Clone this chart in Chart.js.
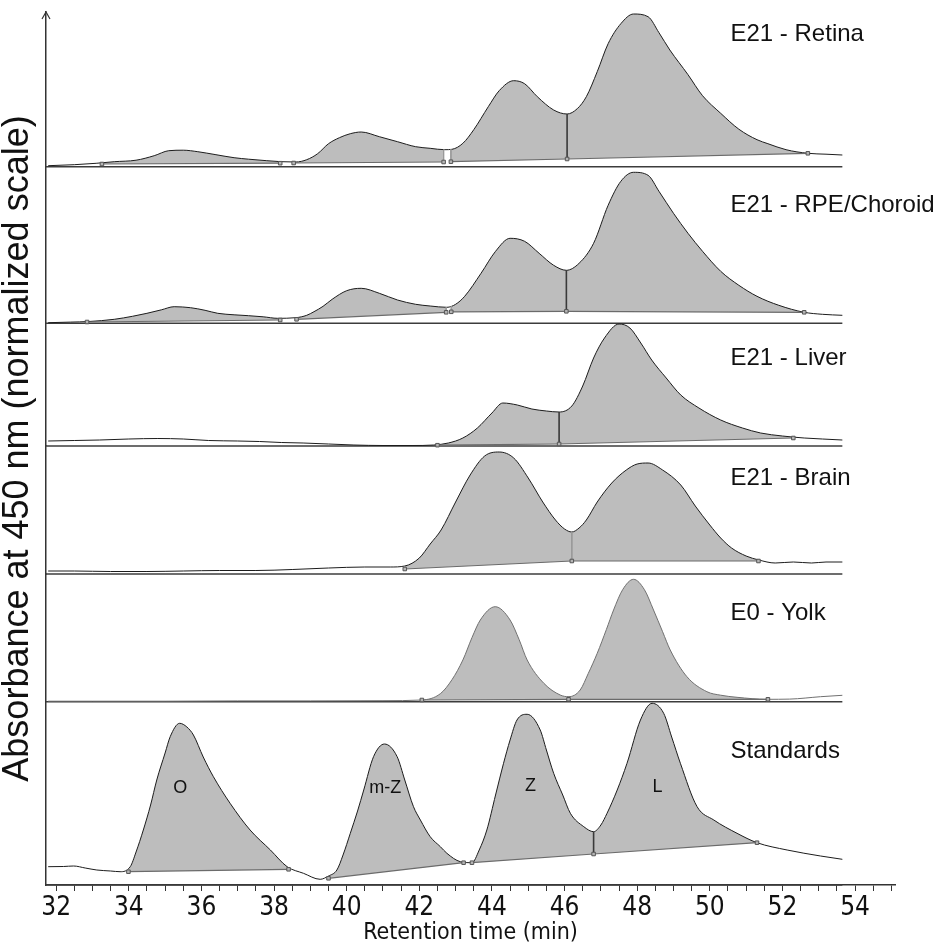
<!DOCTYPE html>
<html>
<head>
<meta charset="utf-8">
<script src="https://cdn.jsdelivr.net/npm/chart.js@4.4.1/dist/chart.umd.min.js"></script>
<style>
  html, body { margin: 0; padding: 0; background: #fff; }
  canvas { display: block; }
</style>
</head>
<body>
<canvas id="chromatograms" width="935" height="950"></canvas>
<script>
// Retention time (min) / absorbance readings, one panel per sample (top to bottom)
const PANELS = ['retina', 'rpe', 'liver', 'brain', 'yolk', 'standards'];
const PANEL_LABELS = ['E21 - Retina', 'E21 - RPE/Choroid', 'E21 - Liver', 'E21 - Brain', 'E0 - Yolk', 'Standards'];

const RETINA_T = [31.78, 32.5, 33.1, 33.6, 34.2, 34.7, 35.1, 35.5, 35.9, 36.4, 36.9, 37.3, 37.8, 38.2, 38.6, 38.9, 39.2, 39.5, 39.8, 40.1, 40.4, 40.9, 41.4, 41.9, 42.3, 42.7, 42.9, 43.2, 43.5, 43.9, 44.2, 44.6, 44.9, 45.25, 45.7, 46.07, 46.35, 46.6, 46.9, 47.2, 47.55, 47.9, 48.3, 48.6, 48.9, 49.4, 49.8, 50.3, 50.8, 51.3, 51.6, 52.1, 52.7, 53.2, 53.65];
const RETINA_Y = [1, 2, 3.4, 5, 6.5, 11, 16, 16.5, 15, 12, 9, 7.5, 6, 5, 4.7, 7, 13, 23, 29, 33, 34.7, 30, 25, 20, 18.4, 17, 17.4, 23.4, 37, 60, 76, 86, 83, 70, 56.7, 52.7, 58, 70, 95, 123, 143, 152.7, 150, 134, 116.7, 92, 71, 53.4, 37.5, 27, 23, 17, 13.4, 12.5, 11.7];

const RPE_T = [31.78, 32.4, 32.9, 33.6, 34.1, 34.5, 34.9, 35.25, 35.7, 36.1, 36.45, 36.9, 37.3, 37.7, 38.1, 38.6, 38.9, 39.1, 39.35, 39.6, 40.0, 40.4, 40.9, 41.4, 41.9, 42.3, 42.76, 43.0, 43.25, 43.7, 44.1, 44.5, 44.9, 45.3, 45.7, 46.05, 46.4, 46.8, 47.2, 47.55, 47.9, 48.3, 48.6, 49.0, 49.4, 49.8, 50.3, 50.8, 51.3, 51.9, 52.6, 53.1, 53.65];
const RPE_Y = [0.6, 1.2, 1.8, 4, 7, 10, 13.5, 16.6, 15.6, 13, 10, 8.5, 7.6, 6.5, 5, 5.6, 8, 11.6, 17, 24, 32.6, 35, 30, 23.3, 19, 17.3, 16, 19, 27, 50, 72, 85, 82, 70, 58, 53, 60, 80, 118, 142, 151, 148, 132, 110, 90, 72, 52, 38, 27, 18, 11, 9, 8];

const LIVER_T = [31.78, 32.5, 33.2, 34, 34.8, 35.5, 36.2, 37.0, 37.6, 38.2, 38.8, 39.5, 40.2, 41, 41.8, 42.4, 42.8, 43.2, 43.6, 44.0, 44.3, 44.7, 45.1, 45.5, 45.85, 46.2, 46.5, 46.8, 47.1, 47.5, 47.8, 48.1, 48.4, 48.8, 49.2, 49.7, 50.3, 50.9, 51.4, 52.0, 52.6, 53.1, 53.65];
const LIVER_Y = [5, 5.5, 6, 7, 7.5, 7, 5.5, 5, 4.5, 3.5, 3, 2, 1, 0.5, 0.5, 1, 3, 8, 18, 33, 43, 41, 37, 35, 34, 40, 60, 88, 108, 122, 118, 103, 86, 68, 51, 38, 26, 18, 13, 10, 8, 7, 6];

const BRAIN_T = [31.78, 32.5, 33.5, 34.5, 35.5, 36.5, 37.5, 38.5, 39.5, 40.5, 41.2, 41.6, 42.0, 42.3, 42.6, 43.0, 43.4, 43.8, 44.2, 44.6, 45.0, 45.4, 45.75, 46.0, 46.2, 46.4, 46.6, 46.9, 47.3, 47.7, 48.0, 48.3, 48.7, 49.2, 49.6, 50.0, 50.3, 50.6, 51.0, 51.35, 51.8, 52.3, 52.8, 53.2, 53.65];
const BRAIN_Y = [3, 3, 2.5, 2.5, 3, 3.5, 3.5, 4.5, 6, 7, 7, 8, 16, 30, 44, 72, 99, 118, 122, 116, 96, 72, 54, 45, 42, 46, 54, 72, 91, 104, 110, 111, 104, 89, 68, 49, 36, 26, 18, 14, 11, 12, 11, 12, 12];

const YOLK_T = [31.78, 33, 35, 37, 39, 41, 42.07, 42.58, 42.9, 43.2, 43.45, 43.68, 44.09, 44.5, 44.75, 44.97, 45.43, 45.88, 46.11, 46.43, 46.65, 46.9, 47.15, 47.35, 47.6, 47.9, 48.2, 48.45, 48.7, 48.91, 49.37, 49.92, 50.3, 50.75, 51.58, 52.2, 53.05, 53.65];
const YOLK_Y = [0.5, 0.5, 0.5, 0.8, 0.8, 1, 1.7, 8, 22, 41.7, 64, 81.7, 95, 81.7, 62, 41.7, 18.4, 6.7, 5, 11.7, 28, 48.4, 72, 91.7, 112, 122.4, 112, 91.7, 70, 51.7, 25, 10, 6.5, 4.4, 2.4, 2.6, 5, 6.4];

const STD_T = [31.78, 32.2, 32.48, 32.8, 33.12, 33.5, 33.76, 34.04, 34.2, 34.4, 34.6, 34.77, 35.0, 35.14, 35.4, 35.6, 35.78, 36.05, 36.33, 36.79, 37.34, 37.9, 38.36, 38.81, 39.27, 39.5, 39.73, 39.9, 40.1, 40.3, 40.47, 40.74, 41.04, 41.39, 41.6, 41.84, 42.03, 42.3, 42.58, 42.76, 43.13, 43.45, 43.65, 43.86, 44.1, 44.32, 44.5, 44.69, 44.97, 45.33, 45.5, 45.7, 45.95, 46.16, 46.53, 46.8, 47.0, 47.17, 47.45, 47.72, 48.09, 48.41, 48.73, 48.95, 49.19, 49.65, 50.11, 50.75, 51.3, 52.13, 53.05, 53.65];
const STD_Y = [18.3, 18.5, 19, 17, 15, 14, 13.3, 18.3, 33, 55, 80, 105, 132, 148.3, 161.7, 158, 150, 128, 108.3, 81.7, 55, 35, 18.3, 11.7, 5.7, 9, 15, 30, 51.7, 74, 95, 128.3, 141, 128.3, 105, 78.3, 65, 48.3, 38.3, 31.7, 23.3, 22.3, 35, 55, 90, 121.7, 145, 165, 170.7, 155, 135, 111.7, 90, 71.7, 58.3, 53.3, 60, 71.7, 95, 121.7, 165, 181.7, 171.7, 148, 121.7, 78.3, 65, 51.7, 42.3, 35, 29, 25.7];

// integration baselines (groups of anchor points, one group per drawn segment)
const RETINA_BASE_T = [[33.26, 38.17], [38.54, 42.67], [42.87, 46.07, 52.7]];
const RETINA_BASE_Y = [[2.7, 3.5], [3.7, 4.7], [5, 7.7, 13.4]];
const RPE_BASE_T = [[32.85, 38.17], [38.62, 42.74], [42.88, 46.05, 52.6]];
const RPE_BASE_Y = [[1.3, 3.3], [4, 11], [11.5, 12, 11]];
const LIVER_BASE_T = [[42.5, 45.85, 52.3]];
const LIVER_BASE_Y = [[0.8, 2, 8]];
const BRAIN_BASE_T = [[41.6, 46.2, 51.34]];
const BRAIN_BASE_Y = [[5, 13, 13]];
const YOLK_BASE_T = [[42.07, 46.11, 51.6]];
const YOLK_BASE_Y = [[1.7, 2.4, 2.4]];
const STD_BASE_T = [[33.99, 38.4], [39.5, 43.22], [43.45, 46.8, 51.3]];
const STD_BASE_Y = [[13.3, 15.7], [6.7, 22.3], [22.3, 31, 42.3]];

// peak split lines: [time, top, bottom, tone]
const RETINA_DROPS = [[46.07, 52.7, 7.7, 'dark'], [42.67, 17, 4.7, 'light'], [42.87, 17.4, 5, 'light']];
const RPE_DROPS = [[46.05, 53, 12, 'dark'], [42.74, 16, 11, 'light'], [42.88, 17, 11.5, 'light']];
const LIVER_DROPS = [[45.85, 34, 2, 'dark']];
const BRAIN_DROPS = [[46.2, 42, 13, 'light']];
const YOLK_DROPS = [[46.11, 5, 2.4, 'dark']];
const STD_DROPS = [[46.8, 53.3, 31, 'dark']];

const PEAK_NAMES = ['O', 'm-Z', 'Z', 'L'];
const PEAK_T = [35.42, 41.06, 45.06, 48.56];
const PEAK_H = [96.7, 96.7, 99, 98.3];

// x range
const X_MIN = 31.72;
const X_MAX = 55.1;
const TRACE_END = 53.65;

// layout: share of the plot height for each panel (same units as the traces)
const PANEL_SPAN = [154.7, 156.6, 122.7, 128, 127.7, 183.3];
const LABEL_T = 50.57;
const LABEL_H = [132, 118, 88, 96, 88, 134];

const TRACES = [[RETINA_T, RETINA_Y], [RPE_T, RPE_Y], [LIVER_T, LIVER_Y], [BRAIN_T, BRAIN_Y], [YOLK_T, YOLK_Y], [STD_T, STD_Y]];
const BASES = [[RETINA_BASE_T, RETINA_BASE_Y], [RPE_BASE_T, RPE_BASE_Y], [LIVER_BASE_T, LIVER_BASE_Y], [BRAIN_BASE_T, BRAIN_BASE_Y], [YOLK_BASE_T, YOLK_BASE_Y], [STD_BASE_T, STD_BASE_Y]];
const DROPS = [RETINA_DROPS, RPE_DROPS, LIVER_DROPS, BRAIN_DROPS, YOLK_DROPS, STD_DROPS];

const FONT = '"Liberation Sans", Arial, sans-serif';
const NARROW = '"Liberation Sans Narrow", "DejaVu Sans Condensed", Arial, sans-serif';

function toPoints(ts, ys) {
    return ts.map((t, i) => ({ x: t, y: ys[i] }));
}

// baseline groups joined with a null point so the line breaks between them
function groupPoints(groupsT, groupsY) {
    const pts = [];
    groupsT.forEach((g, gi) => {
        if (gi > 0) {
            const prev = groupsT[gi - 1];
            pts.push({ x: (prev[prev.length - 1] + g[0]) / 2, y: null });
        }
        g.forEach((t, i) => pts.push({ x: t, y: groupsY[gi][i] }));
    });
    return pts;
}

const datasets = [];

// baselines first so they are painted over the filled traces
PANELS.forEach((p, i) => {
    datasets.push({
        data: groupPoints(BASES[i][0], BASES[i][1]),
        yAxisID: 'y_' + p,
        borderColor: '#6b6b6b',
        borderWidth: 1.2,
        pointStyle: 'rect',
        pointRadius: 2.5,
        pointBackgroundColor: '#b5b5b5',
        pointBorderColor: '#555',
        pointBorderWidth: 1,
        spanGaps: false,
        fill: false,
        clip: false
    });
});

PANELS.forEach((p, i) => {
    DROPS[i].forEach(d => {
        datasets.push({
            data: [{ x: d[0], y: d[1] }, { x: d[0], y: d[2] }],
            yAxisID: 'y_' + p,
            borderColor: d[3] === 'dark' ? '#3a3a3a' : '#9a9a9a',
            borderWidth: d[3] === 'dark' ? 1.6 : 1,
            pointRadius: 0,
            fill: false,
            clip: false
        });
    });
});

PANELS.forEach((p, i) => {
    datasets.push({
        data: toPoints(TRACES[i][0], TRACES[i][1]),
        yAxisID: 'y_' + p,
        borderColor: p === 'yolk' ? '#707070' : '#1c1c1c',
        borderWidth: 1,
        backgroundColor: '#bdbdbd',
        pointRadius: 0,
        cubicInterpolationMode: 'monotone',
        fill: { target: i },
        clip: false
    });
});

// panel separators
PANELS.forEach((p, i) => {
    datasets.push({
        data: [{ x: X_MIN, y: 0 }, { x: TRACE_END, y: 0 }],
        yAxisID: 'y_' + p,
        borderColor: '#3c3c3c',
        borderWidth: 1.5,
        pointRadius: 0,
        fill: false,
        clip: false
    });
});

const scales = {
    x: {
        type: 'linear',
        position: 'bottom',
        min: X_MIN,
        max: X_MAX,
        ticks: {
            stepSize: 0.5,
            includeBounds: false,
            autoSkip: false,
            maxRotation: 0,
            padding: 2,
            color: '#111',
            font: { family: NARROW, size: 26 },
            callback: v => (Math.abs(v % 2) < 1e-6 ? String(v) : '')
        },
        grid: { drawOnChartArea: false, drawTicks: true, tickLength: 6, color: '#333', lineWidth: 1 },
        border: { display: true, color: '#333', width: 1.5 },
        title: {
            display: true,
            text: 'Retention time (min)',
            color: '#111',
            font: { family: NARROW, size: 23 },
            padding: { top: 0, bottom: 3 }
        },
        afterFit: s => { s.height = 65; }
    },
    yTitle: {
        type: 'linear',
        position: 'left',
        weight: 10,
        min: 0,
        max: 1,
        ticks: { display: false },
        grid: { display: false, drawTicks: false },
        border: { display: false },
        title: {
            display: true,
            text: 'Absorbance at 450 nm (normalized scale)',
            color: '#111',
            font: { family: FONT, size: 36, lineHeight: 1 },
            padding: { top: 0, bottom: 0 }
        },
        afterFit: s => { s.width = 46; }
    }
};

PANELS.forEach((p, i) => {
    scales['y_' + p] = {
        type: 'linear',
        position: 'left',
        stack: 'panels',
        stackWeight: PANEL_SPAN[i],
        weight: PANELS.length - i,
        min: 0,
        max: PANEL_SPAN[i],
        ticks: { display: false },
        grid: { display: false, drawTicks: false },
        border: { display: true, color: '#333', width: 1.5 },
        afterFit: s => { s.width = 0; }
    };
});

// panel names, peak names and the arrow on top of the y axis
const annotate = {
    id: 'annotate',
    afterDraw(chart) {
        const { ctx, chartArea } = chart;
        const x = chart.scales.x;
        ctx.save();
        ctx.strokeStyle = '#333';
        ctx.lineWidth = 1.2;
        ctx.beginPath();
        ctx.moveTo(chartArea.left - 4, chartArea.top + 7);
        ctx.lineTo(chartArea.left, chartArea.top);
        ctx.lineTo(chartArea.left + 4, chartArea.top + 7);
        ctx.stroke();

        ctx.fillStyle = '#111';
        ctx.textBaseline = 'middle';
        ctx.textAlign = 'left';
        ctx.font = '24px ' + FONT;
        PANELS.forEach((p, i) => {
            const y = chart.scales['y_' + p];
            ctx.fillText(PANEL_LABELS[i], x.getPixelForValue(LABEL_T), y.getPixelForValue(LABEL_H[i]));
        });

        ctx.textAlign = 'center';
        ctx.font = '18px ' + FONT;
        const ys = chart.scales.y_standards;
        PEAK_NAMES.forEach((n, i) => {
            ctx.fillText(n, x.getPixelForValue(PEAK_T[i]), ys.getPixelForValue(PEAK_H[i]));
        });
        ctx.restore();
    }
};

new Chart(document.getElementById('chromatograms'), {
    type: 'line',
    data: { datasets: datasets },
    options: {
        responsive: false,
        animation: false,
        events: [],
        layout: { padding: { top: 12, right: 40, bottom: 0, left: 0 } },
        plugins: {
            legend: { display: false },
            tooltip: { enabled: false }
        },
        scales: scales
    },
    plugins: [annotate]
});
</script>
</body>
</html>
